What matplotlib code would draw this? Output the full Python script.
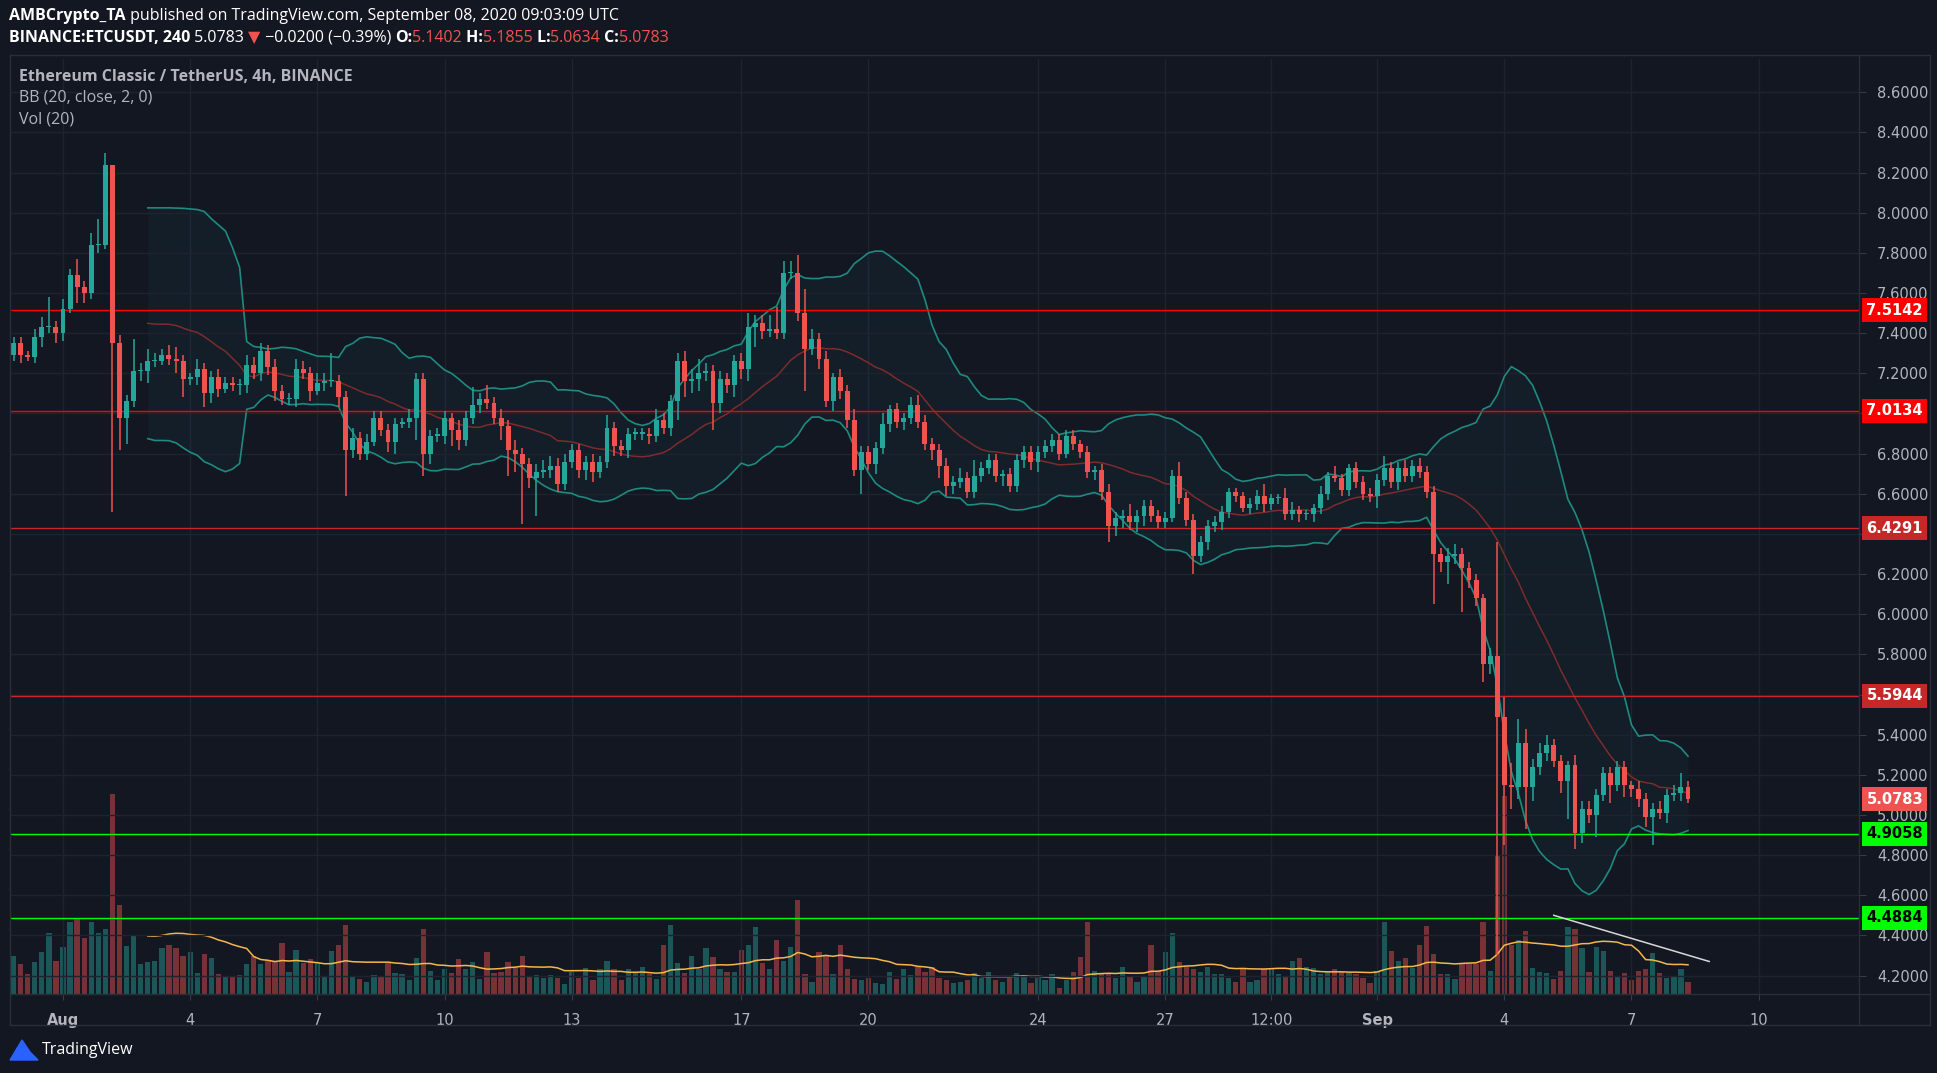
import numpy as np
import matplotlib
matplotlib.use("Agg")
import matplotlib.pyplot as plt
from matplotlib import transforms
from matplotlib.lines import Line2D

# ---------------- data ----------------
first_open = 7.29
closes = [
    # Jul 31 - Aug 11
    7.35,7.29,7.28,7.38,7.43,7.43,7.40,7.52, 7.69,7.63,7.60,7.84,7.84,8.24,7.35,6.98,
    7.06,7.21,7.21,7.26,7.26,7.29,7.27,7.26, 7.17,7.18,7.22,7.10,7.18,7.12,7.15,7.14,
    7.14,7.24,7.20,7.31,7.23,7.11,7.07,7.07, 7.22,7.20,7.11,7.15,7.16,7.16,7.08,6.82,
    6.88,6.80,6.86,6.98,6.92,6.86,6.95,6.96, 6.98,7.17,6.80,6.89,6.89,6.98,6.92,6.87,
    # Aug 11 - Aug 21
    6.98,7.04,7.07,7.05,6.98,6.94,6.82,6.80, 6.75,6.68,6.71,6.72,6.74,6.65,6.76,6.82,
    6.72,6.76,6.71,6.76,6.93,6.84,6.82,6.90, 6.90,6.90,6.89,6.97,6.93,7.06,7.26,7.16,
    7.17,7.20,7.21,7.05,7.17,7.14,7.26,7.22, 7.43,7.45,7.41,7.42,7.40,7.70,7.70,7.50,
    7.32,7.37,7.27,7.06,7.18,7.11,6.97,6.72, 6.81,6.75,6.83,6.95,7.02,6.96,6.98,7.04,
    # Aug 21 - Sep 1
    6.96,6.85,6.82,6.74,6.64,6.66,6.68,6.61, 6.69,6.73,6.77,6.69,6.70,6.64,6.77,6.81,
    6.76,6.81,6.84,6.87,6.80,6.89,6.85,6.81, 6.71,6.72,6.61,6.44,6.48,6.49,6.46,6.49,
    6.54,6.49,6.46,6.48,6.69,6.58,6.47,6.29, 6.36,6.44,6.46,6.51,6.61,6.59,6.53,6.55,
    6.59,6.55,6.58,6.58,6.50,6.52,6.50,6.50, 6.53,6.60,6.69,6.68,6.62,6.73,6.66,
    # Sep 1 - Sep 8
    6.60,6.59,6.67,6.73,6.66,6.73,6.69,6.74, 6.71,6.61,6.30,6.26,6.29,6.30,6.23,6.17,
    6.08,5.75,5.79,5.49,5.15,5.14,5.36,5.14, 5.24,5.31,5.35,5.27,5.17,5.25,4.91,5.03,
    5.00,5.10,5.21,5.15,5.24,5.15,5.13,5.08, 4.99,5.03,5.01,5.10,5.11,5.14,5.0783,
]
upper_wicks = [
    .03,.03,.02,.04,.05,.15,.03,.05, .03,.08,.03,.06,.13,.06,.0,.04, .03,.16,.04,.06,.04,.03,.05,.06,
    .03,.02,.05,.03,.03,.04,.03,.03, .03,.05,.04,.04,.03,.04,.03,.03, .05,.04,.03,.05,.04,.14,.03,.03,
    .05,.03,.04,.03,.03,.03,.03,.02, .04,.03,.03,.03,.04,.03,.02,.05,
    .03,.09,.03,.07,.03,.04,.03,.05, .03,.03,.04,.05,.05,.04,.04,.03, .03,.03,.04,.03,.06,.03,.03,.03,
    .03,.03,.03,.05,.03,.03,.04,.05, .05,.07,.04,.03,.04,.03,.03,.04, .07,.04,.04,.07,.11,.06,.06,.09,
    .12,.05,.03,.04,.02,.04,.03,.05, .03,.03,.03,.05,.02,.03,.02,.04,
    .05,.03,.03,.03,.04,.03,.05,.03, .08,.03,.03,.03,.02,.03,.03,.03, .03,.03,.03,.03,.03,.03,.03,.02,
    .03,.02,.03,.04,.03,.03,.06,.03, .03,.03,.03,.03,.03,.07,.03,.03, .03,.03,.03,.03,.02,.02,.02,.03,
    .03,.06,.02,.02,.05,.04,.02,.02, .02,.04,.02,.05,.02,.02,.03,
    .03,.03,.03,.06,.03,.03,.04,.03, .04,.03,.03,.03,.04,.05,.03,.03, .03,.02,.04,.57,.10,.11,.12,.07,
    .04,.05,.05,.03,.03,.02,.05,.04, .04,.03,.03,.03,.03,.03,.02,.04, .03,.03,.04,.03,.04,.07,.03,
]
lower_wicks = [
    .03,.04,.02,.03,.05,.03,.05,.04, .02,.08,.05,.03,.04,.02,.84,.16, .13,.03,.05,.06,.03,.02,.03,.06,
    .09,.03,.04,.07,.05,.04,.02,.03, .05,.04,.03,.04,.04,.05,.03,.03, .04,.03,.05,.02,.04,.03,.05,.23,
    .04,.03,.03,.02,.03,.05,.06,.02, .03,.11,.11,.05,.03,.04,.08,.05,
    .03,.03,.04,.03,.03,.07,.13,.09, .30,.05,.19,.03,.04,.04,.03,.03, .04,.05,.05,.03,.03,.05,.03,.04,
    .03,.03,.04,.03,.03,.04,.09,.08, .06,.06,.04,.13,.05,.04,.06,.05, .06,.10,.04,.03,.03,.03,.03,.04,
    .21,.03,.05,.03,.05,.04,.04,.03, .12,.03,.05,.03,.04,.03,.04,.03,
    .03,.03,.05,.06,.05,.04,.03,.03, .03,.03,.03,.03,.05,.03,.03,.04, .04,.05,.03,.03,.03,.02,.03,.03,
    .03,.04,.04,.08,.05,.05,.04,.05, .05,.03,.03,.03,.02,.03,.03,.09, .03,.04,.03,.04,.03,.03,.02,.03,
    .03,.04,.03,.03,.03,.03,.04,.03, .04,.03,.03,.02,.03,.03,.03,
    .03,.03,.06,.03,.03,.04,.03,.03, .03,.03,.25,.05,.11,.04,.22,.04, .04,.09,.05,1.19,.30,.11,.06,.21,
    .07,.04,.04,.03,.06,.19,.08,.05, .04,.11,.03,.09,.03,.06,.04,.04, .05,.14,.03,.05,.03,.04,.02,
]
volumes = [
    31,24,16,26,34,49,27,38, 58,61,45,58,49,53,162,72, 39,47,24,26,27,37,40,37,
    31,34,17,32,29,16,14,14, 15,24,31,24,27,26,41,18, 36,25,28,25,14,35,40,56,
    14,12,10,15,14,25,17,16, 11,29,53,19,11,20,17,28,
    20,26,12,34,17,18,26,21, 31,14,15,13,15,13,8,18, 13,21,11,20,27,20,11,20,
    17,22,16,12,40,56,25,17, 31,20,37,30,20,18,18,36, 40,54,25,20,44,27,38,76,
    16,10,34,31,16,40,20,12, 11,13,9,8,18,12,20,15,
    22,18,22,13,11,9,10,11, 17,13,18,11,10,13,17,14, 9,13,11,16,5,11,18,30,
    58,19,17,16,13,22,14,10, 14,40,19,34,49,26,22,20, 18,22,16,16,13,10,20,10,
    11,20,20,16,14,27,29,22, 21,16,18,20,18,17,16,
    13,9,19,58,35,27,29,21, 40,55,32,16,16,12,24,24, 24,58,19,112,160,40,44,51,
    21,18,17,12,19,54,53,37, 18,38,35,19,14,17,11,19, 20,33,17,13,14,20,10,
]
tick_labels = ["Aug", "4", "7", "10", "13", "17", "20", "24", "27", "12:00", "Sep", "4", "7", "10"]
tick_pos = [7, 25, 43, 61, 79, 103, 121, 145, 163, 178, 193, 211, 229, 247]
bold_ticks = ["Aug", "Sep"]
levels = [7.5142, 7.0134, 6.4291, 5.5944, 4.9058, 4.4884]
level_colors = ["#ff0000", "#ff0000", "#c62828", "#c62828", "#00ff00", "#00ff00"]
level_text = ["white", "white", "white", "white", "black", "black"]
last_price = 5.0783
trend_x = [218, 240]
trend_y = [4.50, 4.27]
price_ticks = [4.2, 4.4, 4.6, 4.8, 5.0, 5.2, 5.4, 5.6, 5.8, 6.0, 6.2, 6.4, 6.6, 6.8,
               7.0, 7.2, 7.4, 7.6, 7.8, 8.0, 8.2, 8.4, 8.6]
hidden_ticks = [5.6, 6.4, 7.0]  # covered by level labels in the reference

# ---------------- prep ----------------
n = min(len(closes), len(upper_wicks), len(lower_wicks), len(volumes))
c = np.array(closes[:n])
o = np.concatenate([[first_open], c[:-1]])
hi = np.maximum(o, c) + np.array(upper_wicks[:n])
lo = np.minimum(o, c) - np.array(lower_wicks[:n])
v = np.array(volumes[:n], dtype=float)
x = np.arange(n)
up = c >= o

def rolling(a, w):
    out = np.full(len(a), np.nan)
    for i in range(w - 1, len(a)):
        out[i] = a[i - w + 1:i + 1].mean()
    return out

def rolling_std(a, w):
    out = np.full(len(a), np.nan)
    for i in range(w - 1, len(a)):
        out[i] = a[i - w + 1:i + 1].std()
    return out

basis = rolling(c, 20)
sd = rolling_std(c, 20)
upper = basis + 2 * sd
lower = basis - 2 * sd
vma = rolling(v, 20)

BG = "#131722"
UP = "#26a69a"
DN = "#ef5350"
TXT = "#b2b5be"
GRID = "#1f2330"

W, H = 1937, 1073
fig = plt.figure(figsize=(W / 100, H / 100), dpi=100, facecolor=BG)
L, R, T, B = 10, 1859, 59, 994
rect = [L / W, 1 - B / H, (R - L) / W, (B - T) / H]
axv = fig.add_axes(rect)
ax = fig.add_axes(rect)
axv.set_facecolor(BG)
ax.patch.set_visible(False)

# volume
axv.bar(x[up], v[up], width=0.75, color=UP, alpha=0.45, linewidth=0)
axv.bar(x[~up], v[~up], width=0.75, color=DN, alpha=0.45, linewidth=0)
axv.plot(x, vma, color="#f5b74a", lw=1.1)
axv.set_ylim(0, 757)
axv.set_xlim(-0.5, 261.2)
axv.set_yticks([])
axv.set_xticks(tick_pos)
axv.tick_params(axis="x", length=0, labelbottom=False)
axv.grid(axis="x", color=GRID, lw=1)
for s in axv.spines.values():
    s.set_visible(False)

# price grid
ax.set_xlim(-0.5, 261.2)
ax.set_ylim(4.108, 8.766)
ax.set_yticks(price_ticks)
ax.set_yticklabels(["" if any(abs(t - h) < 1e-9 for h in hidden_ticks) else f"{t:.4f}"
                    for t in price_ticks])
ax.yaxis.tick_right()
ax.tick_params(axis="y", colors=TXT, labelsize=10.5, length=5, color="#363a45", pad=8)
ax.set_xticks(tick_pos)
ax.set_xticklabels(tick_labels)
ax.tick_params(axis="x", colors=TXT, labelsize=10.5, length=4, color="#363a45", pad=10)
for lab in ax.get_xticklabels():
    if lab.get_text() in bold_ticks:
        lab.set_fontweight("bold")
ax.grid(axis="y", color=GRID, lw=1)
for s in ax.spines.values():
    s.set_visible(False)

# Bollinger bands
ax.fill_between(x, lower, upper, color=UP, alpha=0.05, lw=0)
ax.plot(x, upper, color="#1e8a80", lw=1.2)
ax.plot(x, lower, color="#1e8a80", lw=1.2)
ax.plot(x, basis, color="#7d2b2b", lw=1.1)

# horizontal levels
for lv, col in zip(levels, level_colors):
    ax.axhline(lv, color=col, lw=1.0, zorder=2)

# candles
ax.vlines(x[up], lo[up], hi[up], color=UP, lw=1.1, zorder=3)
ax.vlines(x[~up], lo[~up], hi[~up], color=DN, lw=1.1, zorder=3)
body_h = np.maximum(np.abs(c - o), 0.006)
ax.bar(x[up], body_h[up], bottom=np.minimum(o, c)[up], width=0.7, color=UP, lw=0, zorder=4)
ax.bar(x[~up], body_h[~up], bottom=np.minimum(o, c)[~up], width=0.7, color=DN, lw=0, zorder=4)

# trend line
ax.plot(trend_x, trend_y, color="#d8d8d8", lw=1.1, zorder=5)

# price labels on axis
tr = transforms.blended_transform_factory(ax.transAxes, ax.transData)
for lv, col, tc in zip(levels, level_colors, level_text):
    ax.text(1.004, lv, f"{lv:.4f}", transform=tr, ha="left", va="center", fontsize=10.5,
            color=tc, fontweight="bold",
            bbox=dict(facecolor=col, edgecolor="none", boxstyle="square,pad=0.3"), zorder=10, clip_on=False)
ax.text(1.004, last_price, f"{last_price:.4f}", transform=tr, ha="left", va="center", fontsize=10.5,
        color="white", fontweight="bold",
        bbox=dict(facecolor=DN, edgecolor="none", boxstyle="square,pad=0.3"), zorder=10, clip_on=False)

# frame lines
def fline(x0, y0, x1, y1, col="#2a2e39", lw=1):
    fig.add_artist(Line2D([x0 / W, x1 / W], [1 - y0 / H, 1 - y1 / H], color=col, lw=lw))

fline(R, T - 4, R, 1025)
fline(L, 994, 1930, 994)
fline(L, 1025, 1930, 1025)
fline(L, T - 4, 1930, T - 4)
fline(L, T - 4, L, 1025)
fline(1930, T - 4, 1930, 1025)

# header text
fig.canvas.draw()
rend = fig.canvas.get_renderer()

def seq(parts, x0, y0, size):
    xx = x0
    for txt, col, wt, fam in parts:
        t = fig.text(xx / W, 1 - y0 / H, txt, color=col, fontsize=size, fontweight=wt,
                     family=fam, va="center", ha="left")
        bb = t.get_window_extent(renderer=rend)
        xx += bb.width

F = "Open Sans"
seq([("AMBCrypto_TA", "white", "bold", F),
     (" published on TradingView.com, September 08, 2020 09:03:09 UTC", "white", "normal", F)], 9, 16, 11.5)
seq([("BINANCE:ETCUSDT, 240", "white", "bold", F),
     (" 5.0783 ", "white", "normal", F),
     ("▼", "#ef5350", "normal", "DejaVu Sans"),
     (" −0.0200 (−0.39%) ", "white", "normal", F),
     ("O:", "white", "bold", F), ("5.1402", "#ef5350", "normal", F),
     (" H:", "white", "bold", F), ("5.1855", "#ef5350", "normal", F),
     (" L:", "white", "bold", F), ("5.0634", "#ef5350", "normal", F),
     (" C:", "white", "bold", F), ("5.0783", "#ef5350", "normal", F)], 9, 38, 11.5)

fig.text(19 / W, 1 - 77 / H, "Ethereum Classic / TetherUS, 4h, BINANCE", color=TXT, fontsize=11.5,
         fontweight="bold", family=F, va="center")
fig.text(19 / W, 1 - 98 / H, "BB (20, close, 2, 0)", color=TXT, fontsize=11.5, family=F, va="center")
fig.text(19 / W, 1 - 119 / H, "Vol (20)", color=TXT, fontsize=11.5, family=F, va="center")

# TradingView footer
fig.add_artist(matplotlib.patches.Polygon(
    [[10 / W, 1 - 1060 / H], [22 / W, 1 - 1040 / H], [30 / W, 1 - 1052 / H], [38 / W, 1 - 1060 / H]],
    closed=True, color="#2962ff"))
fig.text(42 / W, 1 - 1050 / H, "TradingView", color="white", fontsize=11.5, family=F, va="center")

fig.savefig("out.png", dpi=100, facecolor=BG)
